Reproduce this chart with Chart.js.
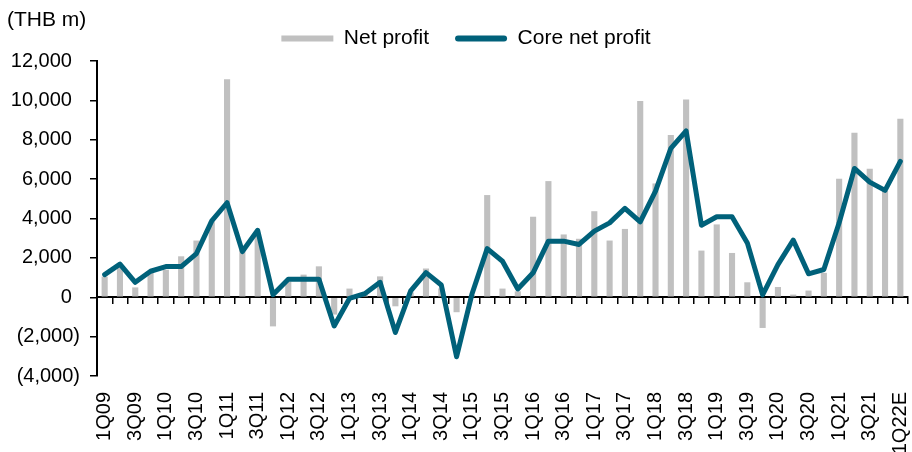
<!DOCTYPE html>
<html>
<head>
<meta charset="utf-8">
<script src="https://cdn.jsdelivr.net/npm/chart.js@4"></script>
<style>
  html, body { margin: 0; padding: 0; background: #fff; }
  #wrap { width: 912px; height: 452px; }
</style>
</head>
<body>
<div id="wrap"><canvas id="chart"></canvas></div>
<script>
const quarters = [
  '1Q09','2Q09','3Q09','4Q09','1Q10','2Q10','3Q10','4Q10',
  '1Q11','2Q11','3Q11','4Q11','1Q12','2Q12','3Q12','4Q12',
  '1Q13','2Q13','3Q13','4Q13','1Q14','2Q14','3Q14','4Q14',
  '1Q15','2Q15','3Q15','4Q15','1Q16','2Q16','3Q16','4Q16',
  '1Q17','2Q17','3Q17','4Q17','1Q18','2Q18','3Q18','4Q18',
  '1Q19','2Q19','3Q19','4Q19','1Q20','2Q20','3Q20','4Q20',
  '1Q21','2Q21','3Q21','4Q21','1Q22E'
];

// THB m
const netProfit = [
  1050, 1500, 500, 1250, 1400, 2080, 2880, 3850,
  11070, 2400, 3200, -1480, 800, 1150, 1570, -880,
  440, 150, 1060, -460, 250, 1460, 450, -760,
  100, 5190, 440, 300, 4090, 5900, 3190, 2970,
  4370, 2880, 3470, 9970, 5780, 8240, 10050, 2370,
  3700, 2250, 760, -1560, 520, 135, 340, 1240,
  6020, 8360, 6530, 5400, 9070
];

const coreNetProfit = [
  1150, 1680, 760, 1320, 1560, 1560, 2220, 3880,
  4800, 2320, 3400, 130, 920, 920, 920, -1460,
  -60, 180, 760, -1790, 320, 1250, 620, -3020,
  150, 2470, 1830, 420, 1240, 2850, 2850, 2680,
  3360, 3780, 4520, 3830, 5390, 7560, 8450, 3660,
  4090, 4090, 2760, 120, 1660, 2900, 1190, 1410,
  3780, 6540, 5850, 5430, 6900
];

const yMin = -4000;
const yMax = 12000;
const yStep = 2000;

const barGrey = '#C0C0C0';
const lineTeal = '#00617A';
const fontFam = '"Liberation Sans", Arial, Helvetica, sans-serif';

Chart.defaults.font.family = fontFam;
Chart.defaults.font.size = 20;
Chart.defaults.color = '#000';

// accounting style: negatives in brackets, positives padded on the right
const fmt = v => {
  const s = Math.abs(v).toLocaleString('en-US');
  return v < 0 ? `(${s})` : `${s}\u2009\u2009`;
};

const extras = {
  id: 'extras',
  afterLayout(chart) {
    const lg = chart.legend;
    lg.left += 12;
    lg.right += 12;
    lg.top -= 2;
    lg.bottom -= 2;
  },
  afterDraw(chart) {
    const ctx = chart.ctx;
    ctx.save();
    ctx.font = `21px ${fontFam}`;
    ctx.fillStyle = '#000';
    ctx.textBaseline = 'middle';
    ctx.fillText('(THB m)', 7, 20);
    ctx.restore();
  }
};

new Chart(document.getElementById('chart'), {
  data: {
    labels: quarters,
    datasets: [
      {
        type: 'bar',
        label: 'Net profit',
        data: netProfit,
        backgroundColor: barGrey,
        barPercentage: 0.4,
        categoryPercentage: 1,
        order: 2
      },
      {
        type: 'line',
        label: 'Core net profit',
        data: coreNetProfit,
        borderColor: lineTeal,
        backgroundColor: lineTeal,
        borderWidth: 5,
        borderJoinStyle: 'round',
        borderCapStyle: 'round',
        pointRadius: 0,
        tension: 0,
        order: 1
      }
    ]
  },
  options: {
    responsive: true,
    maintainAspectRatio: false,
    animation: false,
    devicePixelRatio: 1,
    layout: { padding: { top: 4, right: 4, left: 0, bottom: 0 } },
    scales: {
      x: {
        type: 'category',
        offset: true,
        grid: { display: false, drawTicks: false },
        border: { display: false },
        ticks: {
          autoSkip: false,
          minRotation: 90,
          maxRotation: 90,
          padding: 16,
          font: { size: 20 },
          callback: (val, i) => (i % 2 === 0 ? quarters[i] : '')
        },
        afterFit: scale => {
          scale.height = 76;
          scale.paddingLeft = 0;
          scale.paddingRight = 0;
        }
      },
      x2: {
        type: 'category',
        position: { y: 0 },
        offset: true,
        grid: {
          offset: true,
          drawOnChartArea: false,
          tickLength: 6,
          color: '#000',
          lineWidth: 1.5
        },
        border: { color: '#000', width: 2 },
        ticks: { display: false }
      },
      y: {
        min: yMin,
        max: yMax,
        grid: {
          drawOnChartArea: false,
          tickLength: 7,
          color: '#000',
          lineWidth: 1.5
        },
        border: { color: '#000', width: 2 },
        ticks: {
          stepSize: yStep,
          padding: 10,
          font: { size: 20 },
          callback: v => fmt(v)
        },
        afterFit: scale => {
          scale.width = 97;
        }
      }
    },
    plugins: {
      tooltip: { enabled: false },
      legend: {
        position: 'top',
        labels: {
          font: { size: 21 },
          color: '#000',
          boxWidth: 52,
          boxHeight: 6,
          padding: 26,
          useBorderRadius: true,
          generateLabels: chart => chart.data.datasets.map((ds, i) => ({
            text: ds.label,
            fillStyle: i === 0 ? barGrey : lineTeal,
            strokeStyle: i === 0 ? barGrey : lineTeal,
            lineWidth: 0,
            borderRadius: i === 0 ? 0 : 3,
            datasetIndex: i,
            hidden: false
          }))
        }
      }
    }
  },
  plugins: [extras]
});
</script>
</body>
</html>
